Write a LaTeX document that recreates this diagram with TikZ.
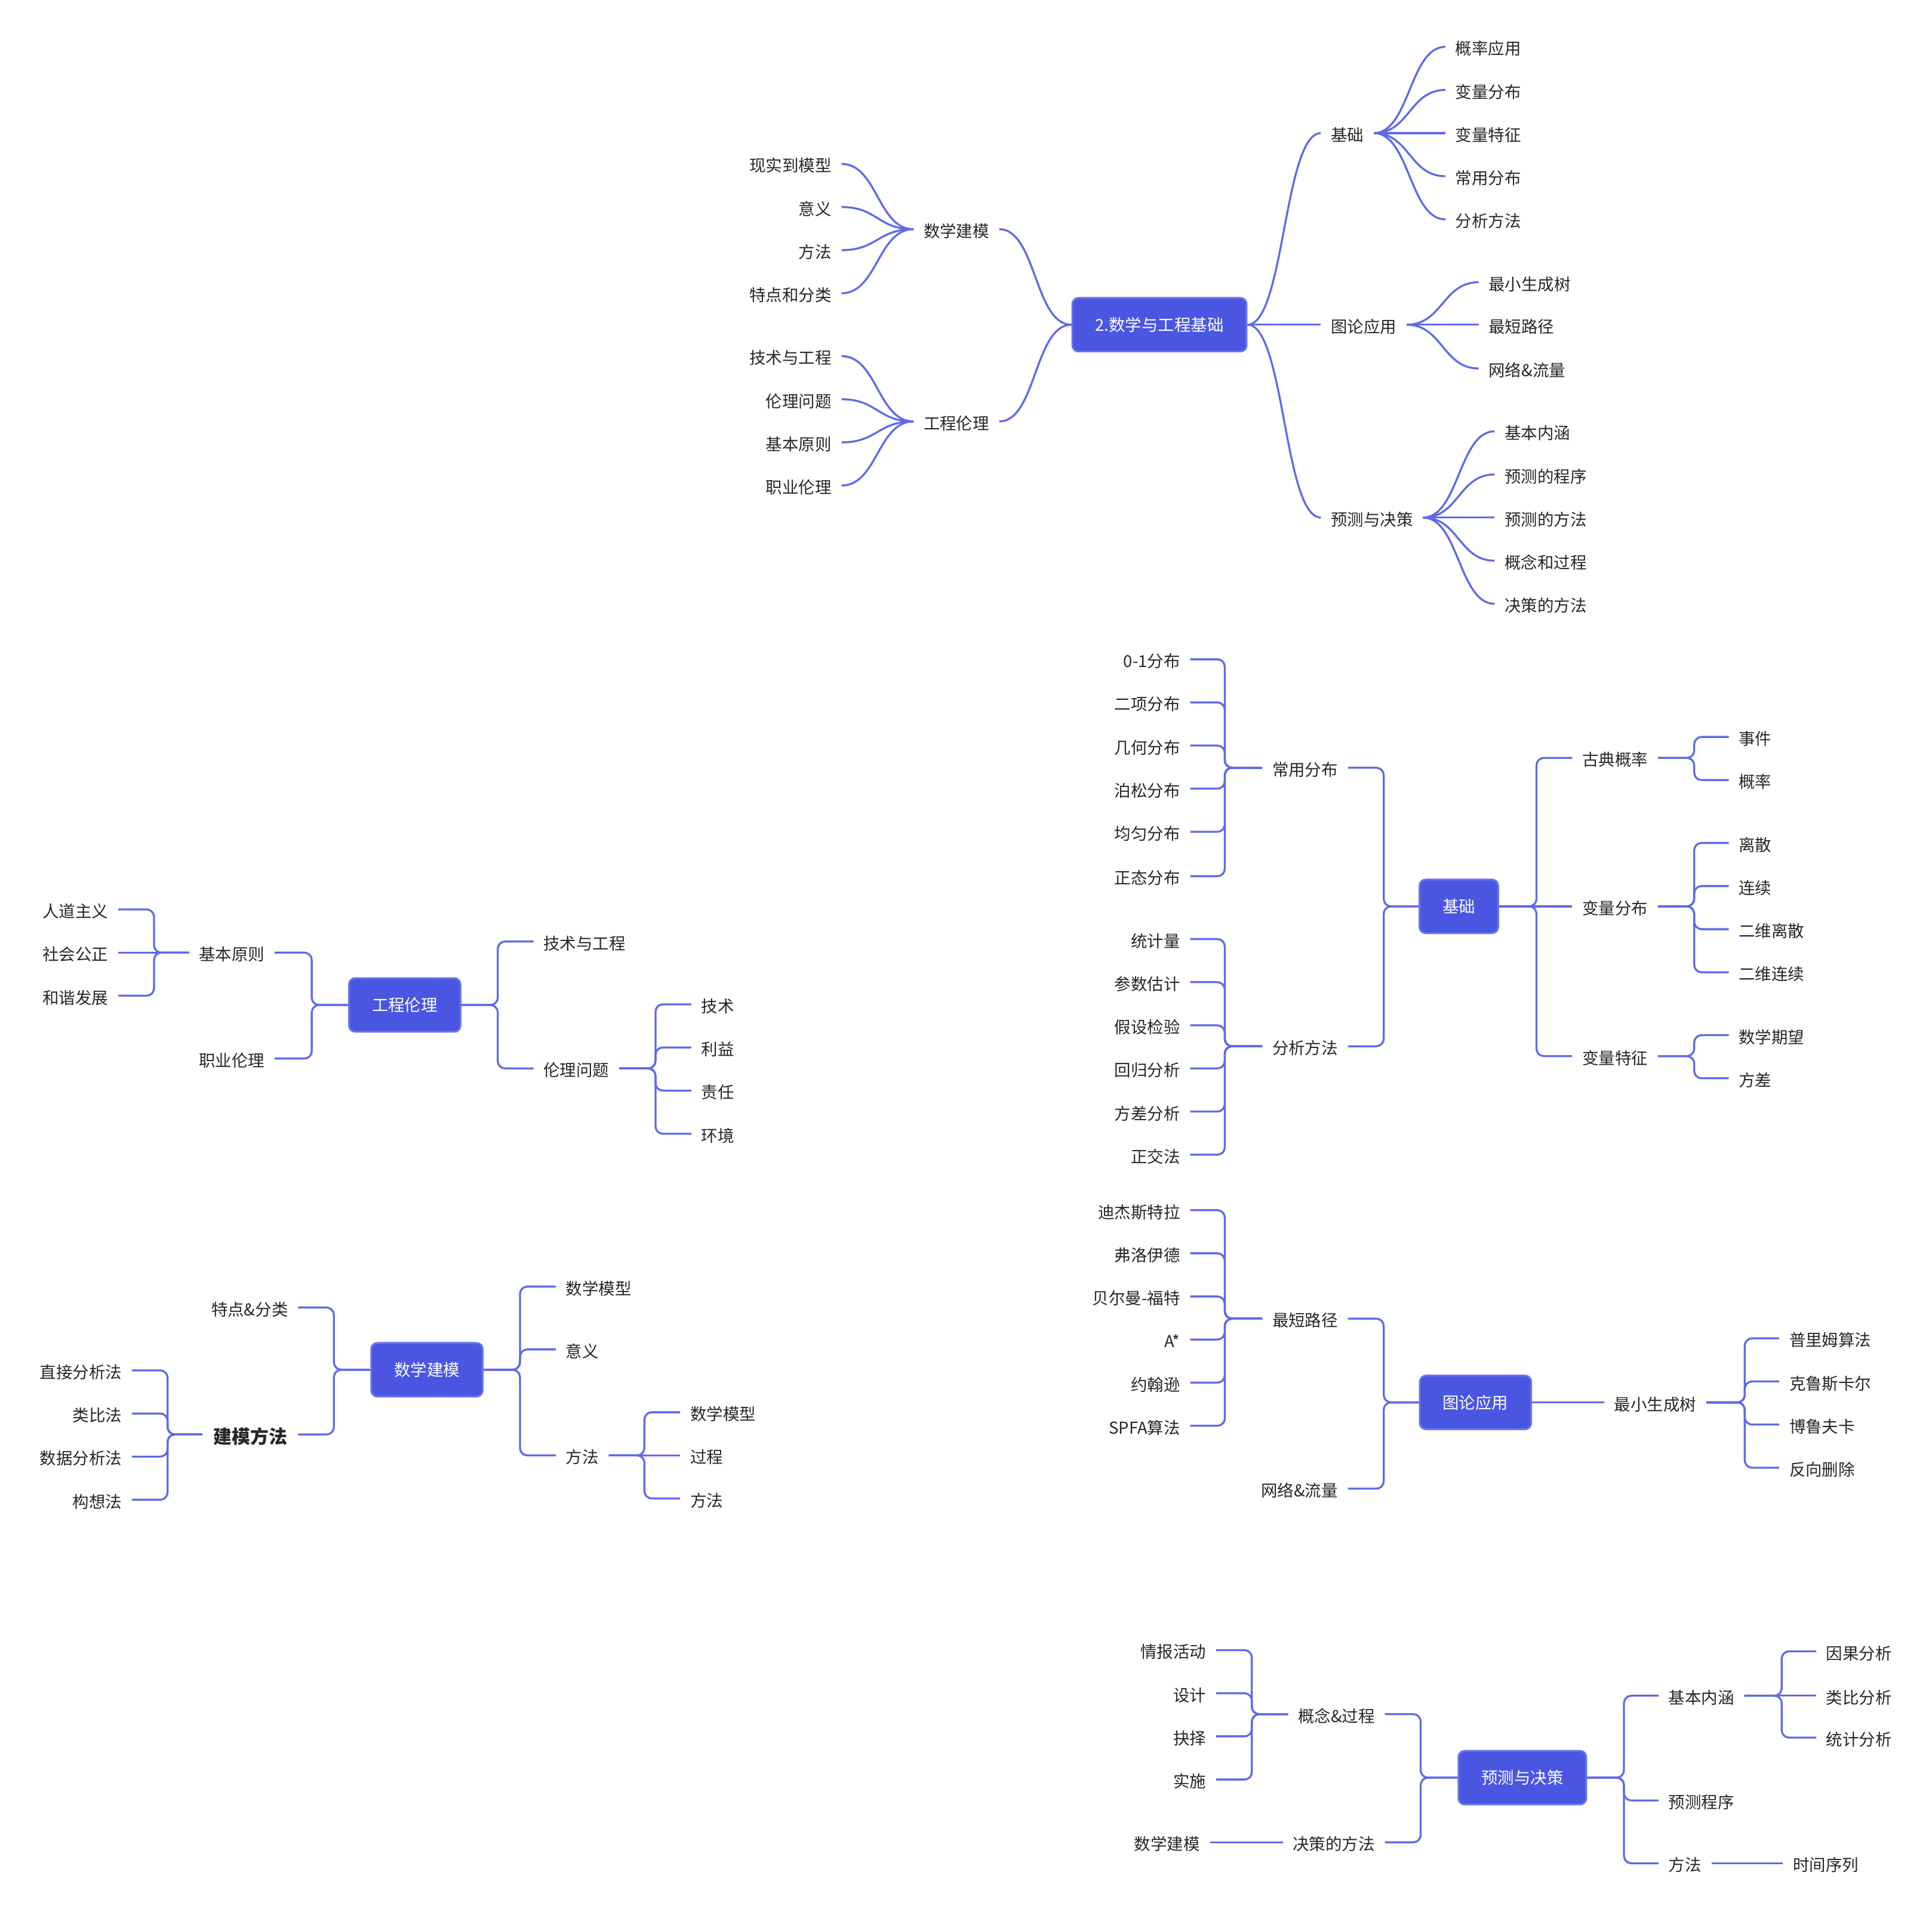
\documentclass[tikz,border=0pt]{standalone}
\usepackage{fontspec}
\setmainfont{Noto Sans CJK SC}
\definecolor{lc}{RGB}{94,106,232}
\definecolor{bf}{RGB}{74,86,226}
\definecolor{bd}{RGB}{104,116,236}
\definecolor{tc}{RGB}{38,38,38}
\begin{document}
\begin{tikzpicture}[x=1pt,y=-1pt,
 txt/.style={font=\fontsize{13.3pt}{16pt}\selectfont, text=tc, inner xsep=8pt, inner ysep=0pt, text height=14.7pt, text depth=1.6pt},
 lt/.style={txt, anchor=east},
 rt/.style={txt, anchor=west},
 boldtxt/.style={font=\fontsize{15pt}{18pt}\bfseries\selectfont, inner xsep=8.7pt, text height=16.4pt, text depth=1.8pt},
 box/.style={rounded corners=5pt, fill=bf, draw=bd, line width=1.5pt, text=white, font=\fontsize{13.3pt}{16pt}\selectfont, minimum height=43.5pt, inner xsep=18.6pt, inner ysep=0pt, text height=11.7pt, text depth=1.6pt},
 conn/.style={draw=lc, line width=1.6pt, rounded corners=6pt},
 crv/.style={draw=lc, line width=1.6pt},
]
\useasboundingbox (0,0) rectangle (1568,1549);

% ---------- top overview ----------
\node[box] (root) at (941,263.5) {2.数学与工程基础};
\node[rt] (jc) at (1072,108) {基础};
\node[rt] (tl) at (1072,263.5) {图论应用};
\node[rt] (yc) at (1072,420) {预测与决策};
\node[lt] (sx) at (811,186) {数学建模};
\node[lt] (gl) at (811,342) {工程伦理};
\draw[crv] (root.east) .. controls +(30,0) and +(-30,0) .. (jc.west);
\draw[crv] (root.east) -- (tl.west);
\draw[crv] (root.east) .. controls +(30,0) and +(-30,0) .. (yc.west);
\draw[crv] (root.west) .. controls +(-30,0) and +(30,0) .. (sx.east);
\draw[crv] (root.west) .. controls +(-30,0) and +(30,0) .. (gl.east);

\foreach \n/\y/\t in {1/38/概率应用,2/73/变量分布,3/108/变量特征,4/143/常用分布,5/178/分析方法}{
  \node[rt] (jc\n) at (1173,\y) {\t};
  \draw[crv] (jc.east) .. controls +(29,0) and +(-29,0) .. (jc\n.west);
}
\foreach \n/\y/\t in {1/229/最小生成树,2/263.5/最短路径,3/299/网络\&流量}{
  \node[rt] (tl\n) at (1200,\y) {\t};
  \draw[crv] (tl.east) .. controls +(29,0) and +(-29,0) .. (tl\n.west);
}
\foreach \n/\y/\t in {1/350/基本内涵,2/385/预测的程序,3/420/预测的方法,4/455/概念和过程,5/490/决策的方法}{
  \node[rt] (yc\n) at (1213,\y) {\t};
  \draw[crv] (yc.east) .. controls +(29,0) and +(-29,0) .. (yc\n.west);
}
\foreach \n/\y/\t in {1/133/现实到模型,2/168/意义,3/203/方法,4/238/特点和分类}{
  \node[lt] (sx\n) at (683,\y) {\t};
  \draw[crv] (sx.west) .. controls +(-29,0) and +(29,0) .. (sx\n.east);
}
\foreach \n/\y/\t in {1/289/技术与工程,2/324/伦理问题,3/359/基本原则,4/394/职业伦理}{
  \node[lt] (gl\n) at (683,\y) {\t};
  \draw[crv] (gl.west) .. controls +(-29,0) and +(29,0) .. (gl\n.east);
}

% ---------- 基础 ----------
\node[box] (B) at (1184,735.5) {基础};
\node[lt] (Bcy) at (1094,623) {常用分布};
\node[lt] (Bfx) at (1094,849) {分析方法};
\node[rt] (Bgd) at (1276,615) {古典概率};
\node[rt] (Bbl) at (1276,735.5) {变量分布};
\node[rt] (Btz) at (1276,857) {变量特征};
\draw[conn] (B.west) -| ([xshift=29pt]Bcy.east) -- (Bcy.east);
\draw[conn] (B.west) -| ([xshift=29pt]Bfx.east) -- (Bfx.east);
\draw[conn] (B.east) -| ([xshift=-29pt]Bgd.west) -- (Bgd.west);
\draw[conn] (B.east) -- (Bbl.west);
\draw[conn] (B.east) -| ([xshift=-29pt]Btz.west) -- (Btz.west);
\foreach \n/\y/\t in {1/535/0-1分布,2/570/二项分布,3/605/几何分布,4/640/泊松分布,5/675/均匀分布,6/711/正态分布}{
  \node[lt] (Bcy\n) at (966,\y) {\t};
  \draw[conn] (Bcy.west) -| ([xshift=28pt]Bcy\n.east) -- (Bcy\n.east);
}
\foreach \n/\y/\t in {1/762/统计量,2/797/参数估计,3/832/假设检验,4/867/回归分析,5/902/方差分析,6/937/正交法}{
  \node[lt] (Bfx\n) at (966,\y) {\t};
  \draw[conn] (Bfx.west) -| ([xshift=28pt]Bfx\n.east) -- (Bfx\n.east);
}
\foreach \n/\y/\t in {1/598/事件,2/633/概率}{
  \node[rt] (Bgd\n) at (1403,\y) {\t};
  \draw[conn] (Bgd.east) -| ([xshift=-28pt]Bgd\n.west) -- (Bgd\n.west);
}
\foreach \n/\y/\t in {1/684/离散,2/719/连续,3/754/二维离散,4/789/二维连续}{
  \node[rt] (Bbl\n) at (1403,\y) {\t};
  \draw[conn] (Bbl.east) -| ([xshift=-28pt]Bbl\n.west) -- (Bbl\n.west);
}
\foreach \n/\y/\t in {1/840/数学期望,2/875/方差}{
  \node[rt] (Btz\n) at (1403,\y) {\t};
  \draw[conn] (Btz.east) -| ([xshift=-28pt]Btz\n.west) -- (Btz\n.west);
}

% ---------- 图论应用 ----------
\node[box] (T) at (1197.5,1138) {图论应用};
\node[lt] (Tzd) at (1094,1070) {最短路径};
\node[lt] (Twl) at (1094,1208) {网络\&流量};
\node[rt] (Tzx) at (1302,1138) {最小生成树};
\draw[conn] (T.west) -| ([xshift=29pt]Tzd.east) -- (Tzd.east);
\draw[conn] (T.west) -| ([xshift=29pt]Twl.east) -- (Twl.east);
\draw[conn] (T.east) -- (Tzx.west);
\foreach \n/\y/\t in {1/982/迪杰斯特拉,2/1017/弗洛伊德,3/1052/贝尔曼-福特,4/1087/A*,5/1122/约翰逊,6/1157/SPFA算法}{
  \node[lt] (Tzd\n) at (966,\y) {\t};
  \draw[conn] (Tzd.west) -| ([xshift=28pt]Tzd\n.east) -- (Tzd\n.east);
}
\foreach \n/\y/\t in {1/1086/普里姆算法,2/1121/克鲁斯卡尔,3/1156/博鲁夫卡,4/1191/反向删除}{
  \node[rt] (Tzx\n) at (1444,\y) {\t};
  \draw[conn] (Tzx.east) -| ([xshift=-28pt]Tzx\n.west) -- (Tzx\n.west);
}

% ---------- 预测与决策 ----------
\node[box] (Y) at (1235.5,1442.5) {预测与决策};
\node[lt] (Ygn) at (1124,1391) {概念\&过程};
\node[lt] (Yjc) at (1124,1495) {决策的方法};
\node[rt] (Yjb) at (1346,1376) {基本内涵};
\node[rt] (Yyc) at (1346,1461) {预测程序};
\node[rt] (Yff) at (1346,1512) {方法};
\draw[conn] (Y.west) -| ([xshift=29pt]Ygn.east) -- (Ygn.east);
\draw[conn] (Y.west) -| ([xshift=29pt]Yjc.east) -- (Yjc.east);
\draw[conn] (Y.east) -| ([xshift=-28pt]Yjb.west) -- (Yjb.west);
\draw[conn] (Y.east) -| ([xshift=-28pt]Yyc.west) -- (Yyc.west);
\draw[conn] (Y.east) -| ([xshift=-28pt]Yff.west) -- (Yff.west);
\foreach \n/\y/\t in {1/1339/情报活动,2/1374/设计,3/1409/抉择,4/1444/实施}{
  \node[lt] (Ygn\n) at (987,\y) {\t};
  \draw[conn] (Ygn.west) -| ([xshift=29pt]Ygn\n.east) -- (Ygn\n.east);
}
\node[lt] (Yjc1) at (982,1495) {数学建模};
\draw[conn] (Yjc.west) -- (Yjc1.east);
\node[rt] (Yjb1) at (1474,1340) {因果分析};
\node[rt] (Yjb2) at (1474,1376) {类比分析};
\node[rt] (Yjb3) at (1474,1410) {统计分析};
\draw[conn] (Yjb.east) -| ([xshift=-28pt]Yjb1.west) -- (Yjb1.west);
\draw[conn] (Yjb.east) -- (Yjb2.west);
\draw[conn] (Yjb.east) -| ([xshift=-28pt]Yjb3.west) -- (Yjb3.west);
\node[rt] (Yff1) at (1447,1512) {时间序列};
\draw[conn] (Yff.east) -- (Yff1.west);

% ---------- 工程伦理 ----------
\node[box] (G) at (328.5,815.5) {工程伦理};
\node[lt] (Gjb) at (223,773) {基本原则};
\node[lt] (Gzy) at (223,859) {职业伦理};
\node[rt] (Gjs) at (433,764) {技术与工程};
\node[rt] (Gll) at (433,867) {伦理问题};
\draw[conn] (G.west) -| ([xshift=30pt]Gjb.east) -- (Gjb.east);
\draw[conn] (G.west) -| ([xshift=30pt]Gzy.east) -- (Gzy.east);
\draw[conn] (G.east) -| ([xshift=-29pt]Gjs.west) -- (Gjs.west);
\draw[conn] (G.east) -| ([xshift=-29pt]Gll.west) -- (Gll.west);
\node[lt] (Gjb1) at (96,738) {人道主义};
\node[lt] (Gjb2) at (96,773) {社会公正};
\node[lt] (Gjb3) at (96,808) {和谐发展};
\draw[conn] (Gjb.west) -| ([xshift=29pt]Gjb1.east) -- (Gjb1.east);
\draw[conn] (Gjb.west) -- (Gjb2.east);
\draw[conn] (Gjb.west) -| ([xshift=29pt]Gjb3.east) -- (Gjb3.east);
\foreach \n/\y/\t in {1/815/技术,2/850/利益,3/885/责任,4/920/环境}{
  \node[rt] (Gll\n) at (561,\y) {\t};
  \draw[conn] (Gll.east) -| ([xshift=-29pt]Gll\n.west) -- (Gll\n.west);
}

% ---------- 数学建模 ----------
\node[box] (S) at (346.5,1111.5) {数学建模};
\node[lt] (Std) at (242,1061) {特点\&分类};
\node[lt,boldtxt] (Sjm) at (242,1164) {建模方法};
\node[rt] (Ssx) at (451,1044) {数学模型};
\node[rt] (Syy) at (451,1095) {意义};
\node[rt] (Sff) at (451,1181) {方法};
\draw[conn] (S.west) -| ([xshift=29pt]Std.east) -- (Std.east);
\draw[conn] (S.west) -| ([xshift=29pt]Sjm.east) -- (Sjm.east);
\draw[conn] (S.east) -| ([xshift=-29pt]Ssx.west) -- (Ssx.west);
\draw[conn] (S.east) -| ([xshift=-29pt]Syy.west) -- (Syy.west);
\draw[conn] (S.east) -| ([xshift=-29pt]Sff.west) -- (Sff.west);
\foreach \n/\y/\t in {1/1112/直接分析法,2/1147/类比法,3/1182/数据分析法,4/1217/构想法}{
  \node[lt] (Sjm\n) at (107,\y) {\t};
  \draw[conn] (Sjm.west) -| ([xshift=29pt]Sjm\n.east) -- (Sjm\n.east);
}
\node[rt] (Sff1) at (552,1146) {数学模型};
\node[rt] (Sff2) at (552,1181) {过程};
\node[rt] (Sff3) at (552,1216) {方法};
\draw[conn] (Sff.east) -| ([xshift=-29pt]Sff1.west) -- (Sff1.west);
\draw[conn] (Sff.east) -- (Sff2.west);
\draw[conn] (Sff.east) -| ([xshift=-29pt]Sff3.west) -- (Sff3.west);
\end{tikzpicture}
\end{document}
